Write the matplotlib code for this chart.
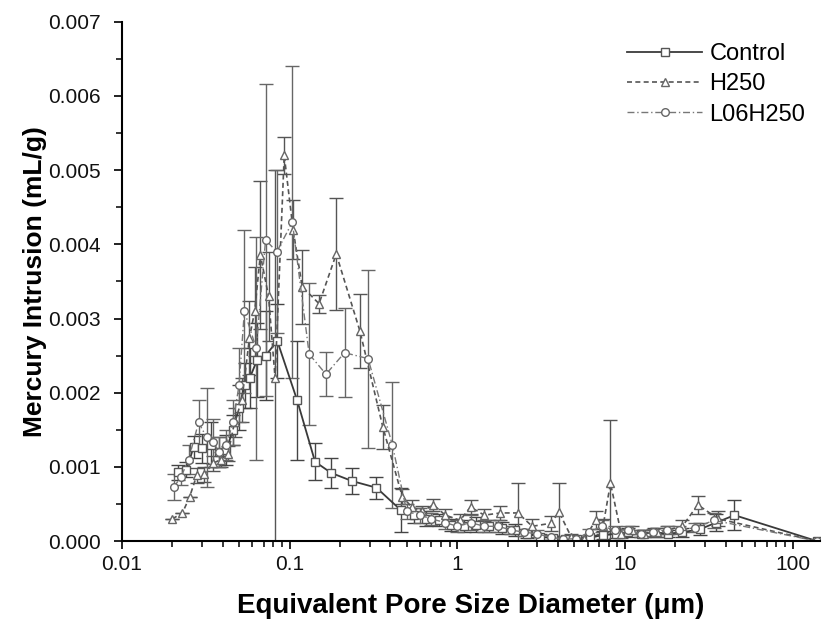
import matplotlib
matplotlib.use("Agg")
import matplotlib.pyplot as plt
from matplotlib.ticker import MultipleLocator, FixedLocator, FixedFormatter, LogLocator, NullFormatter

plt.rcParams['font.family'] = ['Liberation Sans', 'DejaVu Sans']

# Control (squares, solid)
ctrl_x = [0.0215, 0.0243, 0.0268, 0.030, 0.034, 0.038, 0.042, 0.046, 0.050, 0.054,
          0.058, 0.064, 0.072, 0.0845, 0.111, 0.142, 0.177, 0.236, 0.33, 0.46,
          0.55, 0.65, 0.78, 0.92, 1.1, 1.3, 1.55, 1.85, 2.2, 2.6,
          3.1, 3.7, 4.4, 5.2, 6.2, 7.4, 8.8, 10.5, 12.5, 15,
          18, 22, 28, 35, 45, 140]
ctrl_y = [0.00093, 0.00096, 0.00127, 0.00125, 0.0013, 0.0012, 0.00123, 0.0015, 0.0018, 0.0021,
          0.0022, 0.00244, 0.0025, 0.0027, 0.0019, 0.00107, 0.00092, 0.00081, 0.00072, 0.00042,
          0.00035, 0.0003, 0.00028, 0.00022, 0.0002, 0.00022, 0.0002, 0.00018, 0.00015, 0.0001,
          0.00006, 0.00004, 0.00003, 0.00003, 0.00005, 0.00008, 0.0001, 0.00012, 0.0001, 0.00012,
          0.0001, 0.00012, 0.00016, 0.00025, 0.00035, 0.0]
ctrl_err = [0.0001, 0.0001, 0.00015, 0.0002, 0.0003, 0.0002, 0.0002, 0.0002, 0.0003, 0.0003,
            0.0004, 0.0005, 0.0006, 0.0005, 0.0008, 0.00025, 0.0002, 0.00017, 0.00015, 0.0003,
            0.0001, 0.0001, 0.00008, 0.00008, 0.00008, 0.0001, 0.00008, 0.00008, 0.00008, 0.00006,
            0.00004, 0.00003, 0.00002, 0.00002, 0.00003, 0.00005, 0.00006, 0.00006, 0.00005, 0.00006,
            0.00005, 0.00006, 0.00008, 0.00012, 0.0002, 0.0]

# H250 (triangles, dashed)
h250_x = [0.020, 0.023, 0.0254, 0.028, 0.031, 0.035, 0.039, 0.043, 0.047, 0.052,
          0.0577, 0.062, 0.067, 0.075, 0.082, 0.093, 0.105, 0.119, 0.15, 0.19,
          0.263, 0.36, 0.47, 0.536, 0.62, 0.72, 0.85, 1.04, 1.2, 1.45,
          1.81, 2.3, 2.8, 3.6, 4.05, 4.8, 5.7, 6.7, 7.4, 8.2,
          9.5, 11, 13, 15.5, 18, 22, 27.2, 36, 140]
h250_y = [0.0003, 0.00038, 0.0006, 0.00089, 0.0009, 0.00105, 0.0011, 0.00118, 0.0016, 0.0019,
          0.00274, 0.0031, 0.00386, 0.0033, 0.0022, 0.0052, 0.0042, 0.00343, 0.0032, 0.00387,
          0.00283, 0.00154, 0.0006, 0.00046, 0.0004, 0.00049, 0.00035, 0.00028, 0.00046, 0.00035,
          0.00038, 0.00038, 0.0002, 0.00024, 0.00039, 0.00005, 0.00003, 0.00028, 0.0002, 0.00078,
          0.0001, 0.00015, 0.0001, 0.00012, 0.00015, 0.0002, 0.00049, 0.0003, 0.0]
h250_err = [0.0, 0.0, 0.0, 0.0001, 0.0001, 0.0001, 0.0001, 0.0001, 0.0002, 0.0003,
            0.0005, 0.0006, 0.001, 0.0006, 0.0028, 0.00025, 0.0004, 0.0005, 0.00012, 0.00075,
            0.0005, 0.0003, 0.0001, 0.0001, 0.00008, 0.00008, 0.00008, 0.00008, 0.0001, 0.00008,
            0.0001, 0.0004, 0.0001, 0.0001, 0.0004, 0.00004, 0.00003, 0.00012, 0.0001, 0.00085,
            0.00006, 0.00006, 0.00005, 0.00006, 0.00006, 0.00008, 0.00012, 0.0001, 0.0]

# L06H250 (circles, dash-dot)
l06_x = [0.0204, 0.0225, 0.025, 0.0287, 0.032, 0.035, 0.038, 0.042, 0.046, 0.050,
         0.0538, 0.0633, 0.072, 0.084, 0.104, 0.131, 0.165, 0.213, 0.294, 0.41,
         0.5, 0.6, 0.7, 0.85, 1.0, 1.2, 1.45, 1.75, 2.1, 2.5,
         3.0, 3.6, 4.3, 5.1, 6.1, 7.3, 8.7, 10.4, 12.4, 14.8,
         17.7, 21, 26, 34, 140]
l06_y = [0.00073, 0.00086, 0.0011, 0.0016, 0.0014, 0.00134, 0.0012, 0.0013, 0.0016, 0.0021,
         0.0031, 0.0026, 0.00406, 0.0039, 0.0043, 0.00252, 0.00225, 0.00254, 0.00246, 0.0013,
         0.0004, 0.00035, 0.0003, 0.00025, 0.0002, 0.00025, 0.0002, 0.0002, 0.00015, 0.00012,
         0.0001, 0.00005, 0.00003, 0.00003, 0.00012, 0.0002, 0.00015, 0.00015, 0.0001, 0.00012,
         0.00015, 0.00015, 0.00018, 0.00028, 0.0]
l06_err = [0.00018, 0.0001, 0.0002, 0.0003, 0.00067, 0.0003, 0.0002, 0.0002, 0.0003, 0.0005,
           0.0011, 0.0015, 0.0021, 0.0011, 0.0021, 0.00096, 0.0003, 0.0006, 0.0012, 0.00085,
           0.0001, 0.0001, 0.00008, 0.00008, 0.00008, 0.0001, 0.00008, 0.00008, 0.00006, 0.00005,
           0.00005, 0.00003, 0.00002, 0.00002, 0.00005, 0.00008, 0.00006, 0.00006, 0.00005, 0.00005,
           0.00006, 0.00006, 0.00006, 0.0001, 0.0]

fig = plt.figure(figsize=(8.23, 6.22), dpi=100)
ax = fig.add_axes([0.148, 0.130, 0.848, 0.835])

common = dict(markersize=5.5, markerfacecolor='white', capsize=5, elinewidth=1.0,
              capthick=1.0, clip_on=True)

c1 = ax.errorbar(ctrl_x, ctrl_y, yerr=ctrl_err, color='#3a3a3a', ecolor='#444444',
                 ls='-', lw=1.3, marker='s', markeredgecolor='#555555', **common)
c2 = ax.errorbar(h250_x, h250_y, yerr=h250_err, color='#555555', ecolor='#555555',
                 ls=(0, (3, 2)), lw=1.2, marker='^', markeredgecolor='#666666', **common)
c3 = ax.errorbar(l06_x, l06_y, yerr=l06_err, color='#777777', ecolor='#666666',
                 ls=(0, (5, 2, 1, 2)), lw=1.0, marker='o', markeredgecolor='#666666', **common)

ax.set_xscale('log')
ax.set_xlim(0.01, 145)
ax.set_ylim(0, 0.007)

ax.xaxis.set_major_locator(FixedLocator([0.01, 0.1, 1, 10, 100]))
ax.xaxis.set_major_formatter(FixedFormatter(['0.01', '0.1', '1', '10', '100']))
ax.xaxis.set_minor_locator(LogLocator(base=10, subs=range(2, 10)))
ax.xaxis.set_minor_formatter(NullFormatter())
ax.yaxis.set_major_locator(MultipleLocator(0.001))
ax.yaxis.set_minor_locator(MultipleLocator(0.0005))
ax.yaxis.set_major_formatter(plt.FuncFormatter(lambda v, p: f'{v:.3f}'))

ax.tick_params(which='major', direction='out', length=6, width=1.3, labelsize=15,
               colors='#111111')
ax.tick_params(axis='y', which='major', pad=9)
ax.tick_params(axis='x', which='major', pad=4)
ax.tick_params(which='minor', direction='out', length=4, width=1.1)
ax.spines['top'].set_visible(False)
ax.spines['right'].set_visible(False)
ax.spines['left'].set_linewidth(1.5)
ax.spines['bottom'].set_linewidth(1.5)

ax.set_xlabel('Equivalent Pore Size Diameter (μm)', fontsize=20, fontweight='bold', labelpad=14)
ax.set_ylabel('Mercury Intrusion (mL/g)', fontsize=19, fontweight='bold', labelpad=1)

ax.legend([c1[0], c2[0], c3[0]], ['Control', 'H250', 'L06H250'],
          loc='upper right', bbox_to_anchor=(1.01, 1.0), frameon=False, fontsize=17,
          handlelength=3.2, handletextpad=0.3, labelspacing=0.35)

fig.savefig('out.png', dpi=100)
